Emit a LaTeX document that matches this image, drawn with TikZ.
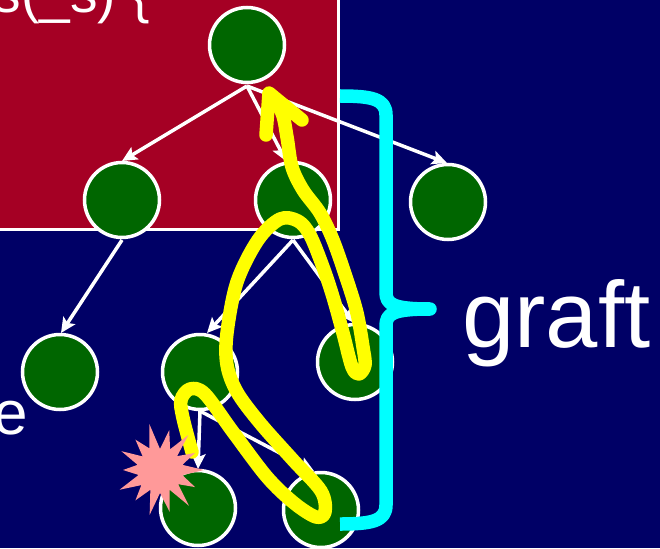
\documentclass[tikz,border=0pt]{standalone}
\usepackage{fontspec}
\setmainfont{Liberation Sans}
\usetikzlibrary{arrows.meta}
\definecolor{navybg}{RGB}{0,0,102}
\definecolor{slidered}{RGB}{165,0,36}
\definecolor{treegreen}{RGB}{0,102,0}
\definecolor{burstpink}{RGB}{255,153,153}
\definecolor{markyellow}{RGB}{255,255,0}
\definecolor{bracecyan}{RGB}{0,255,255}
\begin{document}
\begin{tikzpicture}[x=1pt,y=-1pt,
  tnode/.style={circle, draw=white, fill=treegreen, line width=3.5pt, minimum size=75pt, inner sep=0pt},
  tedge/.style={draw=white, line width=3.5pt, -{Stealth[length=15pt,width=14pt,inset=3pt]}},
  slidetext/.style={text=white, inner sep=0pt, anchor=base west},
  yellowmark/.style={draw=markyellow, line width=13.5pt, line cap=round, line join=round},
  cyanbrace/.style={draw=bracecyan, line width=13.5pt, line cap=butt, line join=round}]
\useasboundingbox (0,0) rectangle (660,548);
\clip (0,0) rectangle (660,548);
\fill[navybg] (0,0) rectangle (660,548);
\filldraw[fill=slidered, draw=white, line width=3pt] (-10,-10) rectangle (338.5,229.5);
\node[slidetext, font=\fontsize{55}{55}\selectfont] (code) at (-6.5,13) {s(\_s) \{};
\node[slidetext, font=\fontsize{62}{62}\selectfont] (etext) at (-6.5,434) {e};
\node[slidetext, font=\fontsize{94}{94}\selectfont] (graft) at (462,347) {graft};
% edges
\coordinate (As) at (247,86);
\draw[tedge] (As) -- (122,161) coordinate (Bn);
\draw[tedge] (As) -- (286,161) coordinate (Cn);
\draw[tedge] (As) -- (447,163) coordinate (Dn);
\coordinate (Bs) at (122,240);
\coordinate (Cs) at (293,240);
\coordinate (Fs) at (200,411);
\draw[tedge] (Bs) -- (61,333) coordinate (En);
\draw[tedge] (Cs) -- (207,333) coordinate (Fn);
\draw[tedge] (Cs) -- (354,323) coordinate (Gn);
\draw[tedge] (Fs) -- (198,469) coordinate (Hn);
\draw[tedge] (Fs) -- (314,471) coordinate (In);
% nodes
\node[tnode] (A) at (247,45) {};
\node[tnode] (B) at (122,200) {};
\node[tnode] (C) at (293,200) {};
\node[tnode] (D) at (448,202) {};
\node[tnode] (E) at (60,372) {};
\node[tnode] (F) at (200,372) {};
\node[tnode] (G) at (355,362) {};
\node[tnode] (H) at (198,508) {};
\node[tnode] (I) at (321,510) {};
% yellow path
\draw[yellowmark] plot[smooth, tension=0.55] coordinates {(192,452) (183,418) (181,400) (190,389) (205,394) (233,432) (267,477) (294,503) (316,517) (325,512) (321,491) (293,460) (260,423) (237,392) (227,365) (227,333) (237,282) (258,240) (280,219) (298,221) (310,235) (323,267) (333,297) (343,333) (352,367) (359,374) (365,365) (363,347) (357,313) (347,280) (333,240) (320,213) (303,190) (292,167) (287,137) (282,113) (270,94)};
\draw[yellowmark] (266,135) -- (269,93) -- (302,120);
% cyan brace
\draw[cyanbrace] (340,96) .. controls (372,96) and (386,99) .. (386,115) -- (386,292) .. controls (386,304) and (392,309) .. (430,309);
\draw[cyanbrace] (430,309) .. controls (392,309) and (386,314) .. (386,326) -- (386,505) .. controls (386,521) and (372,524) .. (340,524);
\fill[bracecyan] (430,309) circle (6.75);
% starburst
\begin{scope}[shift={(160,470)}]
\fill[burstpink] (0:44) -- (13:23) -- (26:39) -- (38:23) -- (51:46) -- (64:22) -- (77:43) -- (90:23) -- (103:46) -- (116:22) -- (129:39) -- (141:24) -- (154:45) -- (167:22) -- (180:37) -- (193:23) -- (206:43) -- (218:22) -- (231:39) -- (244:24) -- (257:47) -- (270:21) -- (283:41) -- (296:23) -- (309:45) -- (321:22) -- (334:39) -- (347:23) -- cycle;
\end{scope}
\end{tikzpicture}
\end{document}
